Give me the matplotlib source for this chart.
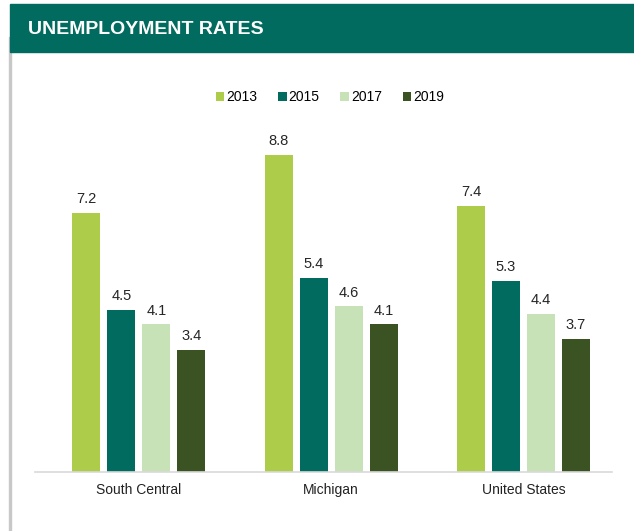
import matplotlib.pyplot as plt
import matplotlib.patches as mpatches
import numpy as np

plt.rcParams['font.family'] = ['Liberation Sans', 'DejaVu Sans']

regions = ['South Central', 'Michigan', 'United States']
years = ['2013', '2015', '2017', '2019']
rate_2013 = [7.2, 8.8, 7.4]
rate_2015 = [4.5, 5.4, 5.3]
rate_2017 = [4.1, 4.6, 4.4]
rate_2019 = [3.4, 4.1, 3.7]
colors = ['#adcd4a', '#006b5e', '#c8e2b8', '#3b5323']

W, H = 634, 531
fig = plt.figure(figsize=(W / 100, H / 100), dpi=100)

# header band and left rule
fig.patches.append(mpatches.Rectangle((9 / W, 0), 2 / W, 1 - 37 / H, transform=fig.transFigure,
                                      color='#c8c8c8', zorder=0))
fig.patches.append(mpatches.Rectangle((10 / W, 1 - 52 / H), 1, 48 / H, transform=fig.transFigure,
                                      color='#006b5e', zorder=1))
fig.text(28 / W, 1 - 29 / H, 'UNEMPLOYMENT RATES', color='white', fontsize=14,
         fontweight='bold', va='center', ha='left')

ax = fig.add_axes([35 / W, 1 - 472 / H, (612 - 35) / W, (472 - 130) / H])
x = np.arange(len(regions))
width = 0.146
step = 0.182
series = [rate_2013, rate_2015, rate_2017, rate_2019]
for i, (vals, c, yr) in enumerate(zip(series, colors, years)):
    pos = x + (i - 1.5) * step
    bars = ax.bar(pos, vals, width, color=c, label=yr)
    for p, v in zip(pos, vals):
        ax.text(p, v + 0.19, f'{v:.1f}', ha='center', va='bottom', fontsize=10.5, color='#262626')

ax.set_xlim(-0.54, 2.46)
ax.set_ylim(0, 9.5)
ax.set_xticks(x)
ax.set_xticklabels(regions, fontsize=10, color='#222222')
ax.tick_params(axis='x', length=0, pad=8)
ax.set_yticks([])
for s in ['top', 'right', 'left']:
    ax.spines[s].set_visible(False)
ax.spines['bottom'].set_color('#d9d9d9')
ax.spines['bottom'].set_linewidth(1.2)

fig.legend(loc='center', bbox_to_anchor=(330 / W, 1 - 97 / H), ncol=4, frameon=False,
           fontsize=10, handlelength=0.6, handleheight=0.6, handletextpad=0.15,
           columnspacing=1.5)

fig.savefig('out.png', dpi=100)
